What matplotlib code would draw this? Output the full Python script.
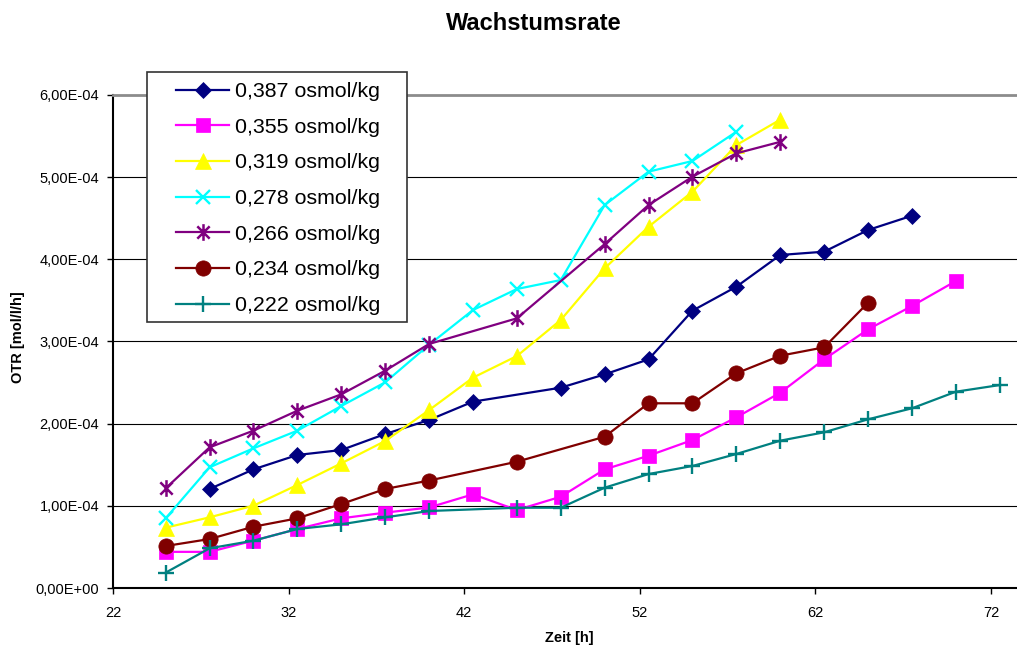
import numpy as np
import matplotlib
matplotlib.use("Agg")
import matplotlib.pyplot as plt
from matplotlib.path import Path
from matplotlib.patches import Rectangle
from matplotlib.ticker import FuncFormatter, MultipleLocator

plt.rcParams['font.family'] = ['Liberation Sans', 'DejaVu Sans']

# -------------------------
# DATA  (OTR in 1e-4 mol/l/h)
# -------------------------
t_387 = [27.5, 30, 32.5, 35, 37.5, 40, 42.5, 47.5, 50, 52.5, 55, 57.5, 60, 62.5, 65, 67.5]
v_387 = [1.205, 1.444, 1.619, 1.679, 1.874, 2.045, 2.268, 2.438, 2.60, 2.783, 3.375, 3.667,
         4.053, 4.093, 4.357, 4.531]

t_355 = [25, 27.5, 30, 32.5, 35, 37.5, 40, 42.5, 45, 47.5, 50, 52.5, 55, 57.5, 60, 62.5, 65, 67.5, 70]
v_355 = [0.44, 0.44, 0.576, 0.718, 0.848, 0.917, 0.980, 1.140, 0.949, 1.111, 1.444, 1.610,
         1.801, 2.077, 2.377, 2.783, 3.148, 3.432, 3.736]

t_319 = [25, 27.5, 30, 32.5, 35, 37.5, 40, 42.5, 45, 47.5, 50, 52.5, 55, 57.5, 60]
v_319 = [0.734, 0.860, 1.002, 1.254, 1.517, 1.789, 2.165, 2.56, 2.823, 3.262, 3.891, 4.397,
         4.823, 5.391, 5.70]

t_278 = [25, 27.5, 30, 32.5, 35, 37.5, 40, 42.5, 45, 47.5, 50, 52.5, 55, 57.5]
v_278 = [0.848, 1.469, 1.700, 1.915, 2.215, 2.503, 2.96, 3.383, 3.639, 3.748, 4.661, 5.067,
         5.197, 5.553]

t_266 = [25, 27.5, 30, 32.5, 35, 37.5, 40, 45, 50, 52.5, 55, 57.5, 60]
v_266 = [1.213, 1.712, 1.915, 2.158, 2.357, 2.645, 2.97, 3.282, 4.186, 4.661, 5.006, 5.29, 5.43]

t_234 = [25, 27.5, 30, 32.5, 35, 37.5, 40, 45, 50, 52.5, 55, 57.5, 60, 62.5, 65]
v_234 = [0.511, 0.596, 0.746, 0.848, 1.022, 1.205, 1.308, 1.537, 1.841, 2.248, 2.248, 2.613,
         2.827, 2.929, 3.472]

t_222 = [25, 27.5, 30, 32.5, 35, 37.5, 40, 45, 47.5, 50, 52.5, 55, 57.5, 60, 62.5, 65, 67.5, 70, 72.5]
v_222 = [0.187, 0.483, 0.576, 0.718, 0.775, 0.860, 0.937, 0.977, 0.977, 1.221, 1.387, 1.485,
         1.631, 1.793, 1.895, 2.053, 2.187, 2.389, 2.470]

labels = ["0,387 osmol/kg", "0,355 osmol/kg", "0,319 osmol/kg", "0,278 osmol/kg",
          "0,266 osmol/kg", "0,234 osmol/kg", "0,222 osmol/kg"]
colors = ["#000080", "#FF00FF", "#FFFF00", "#00FFFF", "#800080", "#800000", "#008080"]

# excel style star marker (x with vertical bar)
star = Path([(-1, -1), (1, 1), (-1, 1), (1, -1), (0, -1.35), (0, 1.35)],
            [Path.MOVETO, Path.LINETO, Path.MOVETO, Path.LINETO, Path.MOVETO, Path.LINETO])

series = [
    (t_387, v_387, dict(marker='D', ms=7.8, mew=0.5)),
    (t_355, v_355, dict(marker='s', ms=10.5, mew=0.5)),
    (t_319, v_319, dict(marker='^', ms=11.5, mew=0.5)),
    (t_278, v_278, dict(marker='x', ms=10, mew=1.7)),
    (t_266, v_266, dict(marker=star, ms=12, mew=1.8)),
    (t_234, v_234, dict(marker='o', ms=11, mew=0.5)),
    (t_222, v_222, dict(marker='+', ms=11.5, mew=1.7)),
]

# -------------------------
# PLOT
# -------------------------
fig = plt.figure(figsize=(10.17, 6.48), dpi=100)
ax = fig.add_axes([113 / 1017, 1 - 588 / 648, 1 - 113 / 1017, (588 - 95) / 648])

for (t, v, mk), lab, col in zip(series, labels, colors):
    ax.plot(t, np.array(v) * 1e-4, color=col, lw=1.6, mec=col, mfc=col,
            label=lab, zorder=3, clip_on=False, **mk)

ax.set_xlim(22, 22 + (1017 - 113) / 17.56)
ax.set_ylim(0, 6e-4)
ax.yaxis.set_major_locator(MultipleLocator(1e-4))
ax.set_xticks([22, 32, 42, 52, 62, 72])
ax.yaxis.set_major_formatter(FuncFormatter(lambda v, p: f"{v:.2E}".replace('.', ',')))

ax.tick_params(axis='both', direction='out', length=4, width=1, labelsize=10.5, colors='black')
ax.tick_params(axis='y', pad=6)
ax.tick_params(axis='x', pad=9)

ax.grid(axis='y', color='black', lw=0.8)
ax.set_axisbelow(True)
for s in ['left', 'bottom']:
    ax.spines[s].set_linewidth(1.5)
ax.spines['right'].set_visible(False)
ax.spines['top'].set_color('#8c8c8c')
ax.spines['top'].set_linewidth(2)

fig.text(534 / 1017, 1 - 23 / 648, "Wachstumsrate", ha='center', va='center',
         fontsize=17, fontweight='bold')
fig.text(569 / 1017, 1 - 638 / 648, "Zeit [h]", ha='center', va='center',
         fontsize=10.5, fontweight='bold')
fig.text(18 / 1017, 1 - 337 / 648, "OTR [mol/l/h]", ha='center', va='center',
         rotation=90, fontsize=10.5, fontweight='bold')

# legend box
box = Rectangle((147 / 1017, 1 - 322 / 648), 260 / 1017, 250 / 648, transform=fig.transFigure,
                facecolor='white', edgecolor='#333333', lw=1.2, zorder=4)
fig.patches.append(box)

leg = fig.legend(loc='upper left', bbox_to_anchor=(176 / 1017, 1 - 82 / 648),
                 frameon=False, fontsize=15.4, borderpad=0, borderaxespad=0,
                 handlelength=2.5, handletextpad=0.25, labelspacing=0.78)
leg.set_zorder(5)

fig.savefig("out.png", dpi=100)
